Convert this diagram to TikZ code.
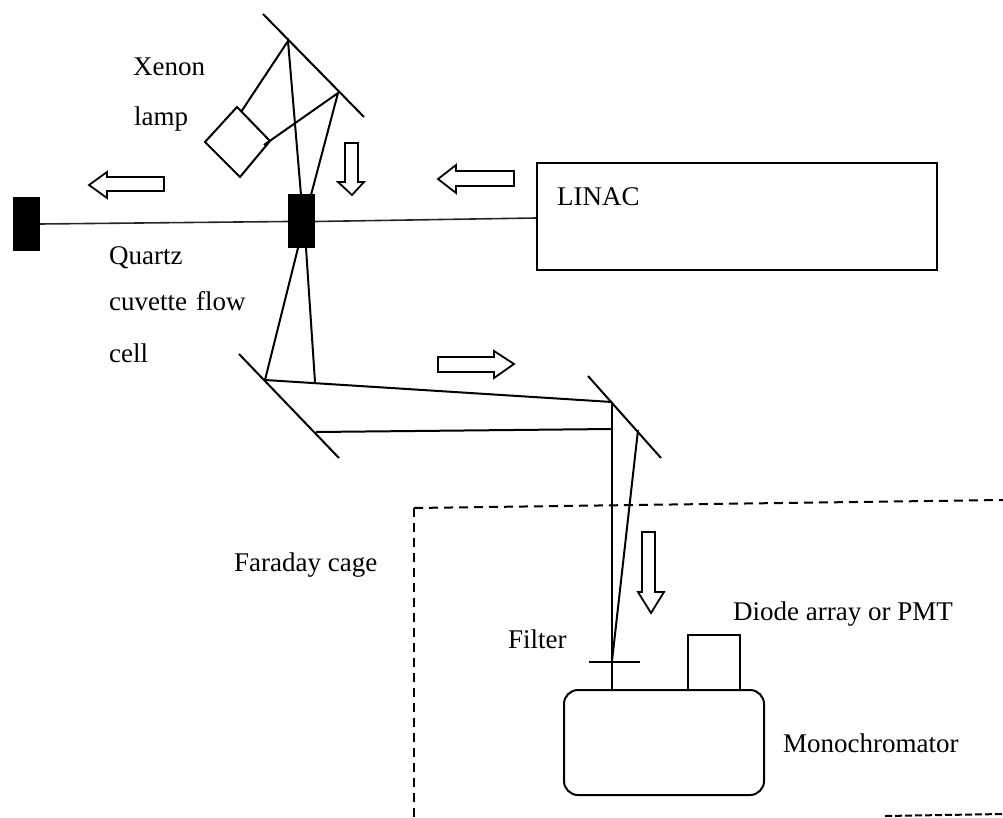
\documentclass[tikz,border=0pt]{standalone}
\usepackage{fontspec}
\setmainfont{Liberation Serif}
\tikzset{
  x=1pt,y=-1pt,
  optic/.style={line width=2pt,black},
  thin beam/.style={line width=1.6pt,black!85},
  block/.style={fill=black,draw=black,line width=1pt},
  hollow/.style={line width=1.8pt,black,line join=miter},
  lbl/.style={anchor=base west,inner sep=0pt,font=\fontsize{27}{32}\selectfont},
  cage/.style={line width=2pt,black,dash pattern=on 9pt off 6pt},
}
\begin{document}
\begin{tikzpicture}
\useasboundingbox (0,0) rectangle (1003,818);
% mirror points
\coordinate (m1s) at (263,14); \coordinate (m1e) at (364,117);
\coordinate (m1a) at (288,41); \coordinate (m1b) at (338,93);
\coordinate (m2s) at (239,354); \coordinate (m2e) at (339,458);
\coordinate (m2a) at (265,380); \coordinate (m2b) at (316,432);
\coordinate (m3s) at (588,376); \coordinate (m3e) at (661,458);
\coordinate (m3a) at (612,402); \coordinate (m3b) at (638,430);
% lamp
\coordinate (lt) at (237,107); \coordinate (lr) at (270,141);
\coordinate (lb) at (240,177); \coordinate (ll) at (205,142);
\draw[optic] (lt) -- (lr) -- (lb) -- (ll) -- cycle;
\coordinate (la) at (241,112); \coordinate (lc) at (264,145);
% blocks
\node[block,minimum width=26pt,minimum height=53pt,inner sep=0pt] (cell) at (301.5,221.5) {};
\node[block,minimum width=26pt,minimum height=53pt,inner sep=0pt] (stop) at (26.5,224) {};
% LINAC
\node[draw,line width=2pt,minimum width=400pt,minimum height=106pt,inner sep=0pt] (linac) at (737,216.5) {};
\draw[thin beam] (stop.east) -- (cell.west);
\draw[thin beam] (cell.east) -- ([yshift=-1.5pt]linac.west);
% mirrors
\draw[optic] (m1s) -- (m1e);
\draw[optic] (m2s) -- (m2e);
\draw[optic] (m3s) -- (m3e);
% rays
\coordinate (ct1) at (301,195); \coordinate (ct2) at (311,195);
\coordinate (cb1) at (298,248); \coordinate (cb2) at (306,248);
\draw[optic] (la) -- (m1a) -- (ct1);
\draw[optic] (lc) -- (m1b) -- (ct2);
\draw[optic] (cb1) -- (m2a) -- (m3a);
\draw[optic] (cb2) -- (315,382);
\draw[optic] (m2b) -- (612,429);
% mono
\node[draw,line width=2pt,rounded corners=14pt,minimum width=200pt,minimum height=105pt,inner sep=0pt] (mono) at (664,742.5) {};
\node[draw,line width=2pt,minimum width=52pt,minimum height=55pt,inner sep=0pt] (det) at (714,662.5) {};
\coordinate (mt) at (612,690);
\coordinate (fc) at (612,661);
\draw[optic] (m3a) -- (mt);
\draw[optic] (m3b) -- (fc);
\coordinate (fl) at (589,662); \coordinate (fr) at (640,662);
\draw[optic] (fl) -- (fr);
% cage
\coordinate (cg0) at (414,508); \coordinate (cg1) at (1003,500);
\coordinate (cg2) at (414,818);
\coordinate (cg3) at (885,816); \coordinate (cg4) at (1003,814);
\draw[cage] (cg0) -- (cg1);
\draw[cage] (cg0) -- (cg2);
\draw[cage,dash pattern=on 7pt off 3pt] (cg3) -- (cg4);
% hollow arrows
\draw[hollow] (164,177) -- (107,177) -- (107,172) -- (89,185) -- (107,198) -- (107,191) -- (164,191) -- cycle;
\draw[hollow] (514,171) -- (456,171) -- (456,165) -- (438,179) -- (456,193) -- (456,186) -- (514,186) -- cycle;
\draw[hollow] (345,143) -- (358,143) -- (358,182) -- (364,182) -- (352,195) -- (338,182) -- (345,182) -- cycle;
\draw[hollow] (438,357) -- (494,357) -- (494,351) -- (514,364) -- (494,378) -- (494,372) -- (438,372) -- cycle;
\draw[hollow] (642,532) -- (655,532) -- (655,592) -- (664,592) -- (651,613) -- (638,592) -- (642,592) -- cycle;
% labels
\node[lbl] (xenon) at (133,76) {Xenon};
\node[lbl] (lamp) at (134,126) {lamp};
\node[lbl] (quartz) at (109,264) {Quartz};
\node[lbl] (cuvette) at (109,310) {cuvette\hspace{9pt}flow};
\node[lbl] (cellt) at (109,362) {cell};
\node[lbl] (lin) at (557,206) {LINAC};
\node[lbl] (far) at (234,571) {Faraday cage};
\node[lbl] (filt) at (508,648) {Filter};
\node[lbl] (diode) at (733,620) {Diode array or PMT};
\node[lbl] (mon) at (783,752) {Monochromator};
\end{tikzpicture}
\end{document}
